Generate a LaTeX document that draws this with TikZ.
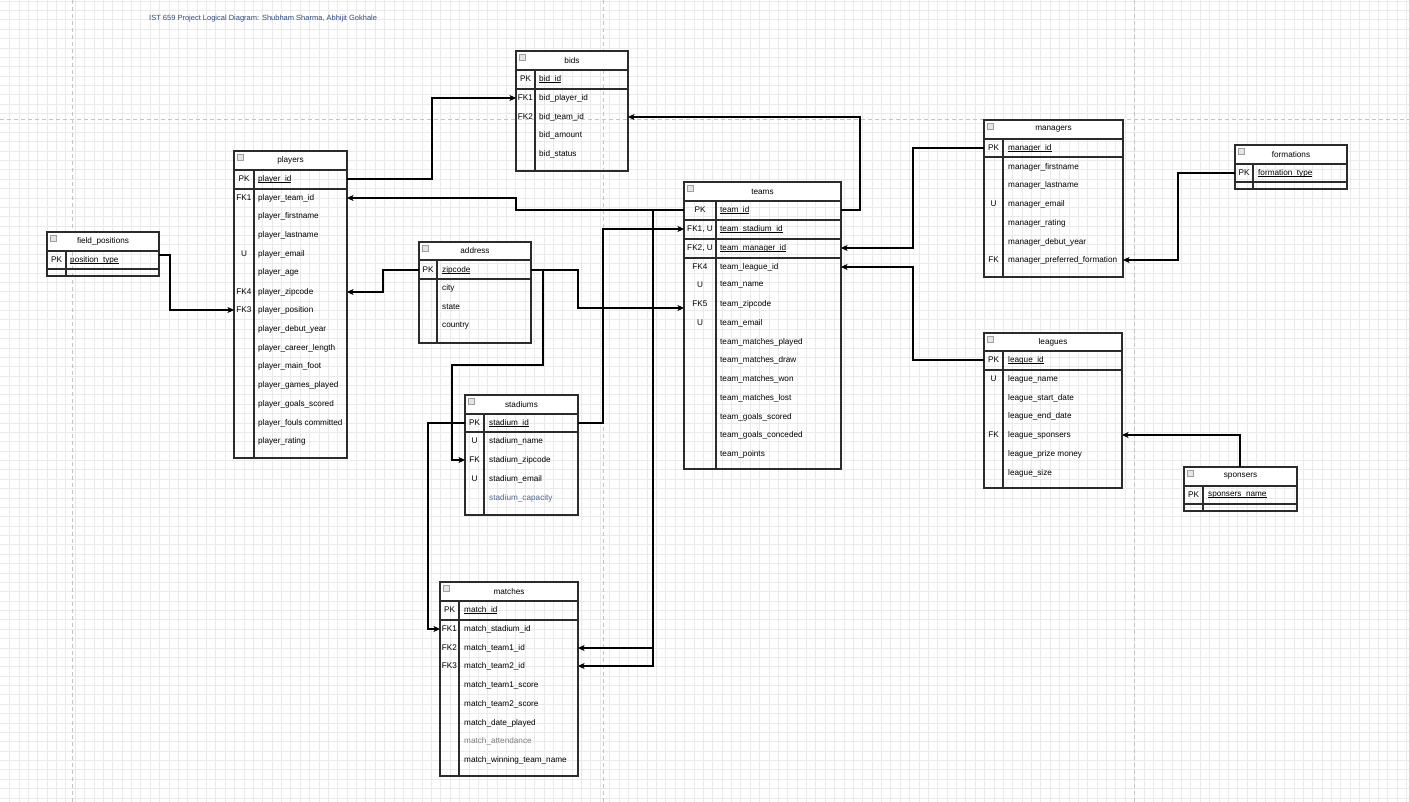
\documentclass[tikz,border=0pt]{standalone}
\usepackage{fontspec}
\setmainfont{Liberation Sans}
\usetikzlibrary{arrows.meta}
\definecolor{gridc}{HTML}{EAEAEA}
\definecolor{pagec}{HTML}{C4C4C4}
\definecolor{tlinec}{HTML}{2B2B2B}
\definecolor{titlec}{HTML}{2A4A8A}
\definecolor{capc}{HTML}{4E6A9A}
\definecolor{attc}{HTML}{808080}
\newsavebox\pkbox
\newcommand\pku[1]{\sbox\pkbox{#1}\leavevmode\rlap{\rule[-1.1pt]{\wd\pkbox}{0.55pt}}\usebox\pkbox}
\tikzset{
  gridline/.style={draw=gridc, line width=0.55pt},
  pageline/.style={draw=pagec, line width=1pt, dash pattern=on 4pt off 3pt},
  tblbox/.style={draw=tlinec, line width=1.4pt, inner sep=0pt, outer sep=0pt},
  tline/.style={draw=tlinec, line width=1.4pt},
  hdrfill/.style={fill=white},
  titletxt/.style={inner sep=0pt, font=\fontsize{8.2}{9}\selectfont},
  rowtxt/.style={anchor=west, inner sep=0pt, font=\fontsize{8.2}{9}\selectfont},
  keytxt/.style={inner sep=0pt, font=\fontsize{8.2}{9}\selectfont},
  iconbox/.style={draw=gray!75, fill=gray!20, line width=0.5pt, minimum size=6pt, inner sep=0pt},
  conn/.style={draw=black, line width=1.2pt, -{Stealth[length=6.5pt,width=6pt,inset=1.6pt]}},
}
% #1 name #2 left #3 right #4 top #5 header bottom #6 pk bottom #7 bottom #8 separator x #9 title
\newcommand\ertable[9]{%
  \fill[hdrfill] (#2,#4) rectangle (#3,#5);
  \node[tblbox, minimum width={#3-#2}, minimum height={#7-#4}, anchor=north west] (#1) at (#2,#4) {};
  \draw[tline] (#2,#5) -- (#3,#5);
  \draw[tline] (#2,#6) -- (#3,#6);
  \draw[tline] (#8,#5) -- (#8,#7);
  \node[titletxt] (#1-title) at ({(#2+#3)/2},{(#4+#5)/2}) {#9};
  \node[iconbox] (#1-icon) at ({#2+6},{#4+6}) {};
}
% #1 name #2 key x #3 text x #4 rows y/key/text
\newcommand\errows[4]{%
  \foreach[count=\i] \ry/\rk/\rt in {#4} {%
    \node[keytxt] (#1-k\i) at (#2,\ry) {\rk};
    \node[rowtxt] (#1-r\i) at (#3,\ry) {\rt};
  }%
}
\begin{document}
\begin{tikzpicture}[x=1pt,y=-1pt]
\useasboundingbox (0,0) rectangle (1409,802);
\fill[white] (0,0) rectangle (1409,802);
% grid
\foreach \i in {0,...,150} {\draw[gridline] ({9.4+\i*9.375},0) -- ({9.4+\i*9.375},802);}
\foreach \j in {0,...,86} {\draw[gridline] (0,{1+\j*9.375}) -- (1409,{1+\j*9.375});}
% page breaks
\draw[pageline] (72,0) -- (72,802);
\draw[pageline] (603,0) -- (603,802);
\draw[pageline] (1134,0) -- (1134,802);
\draw[pageline] (0,120) -- (1409,120);
% title
\node[anchor=west, inner sep=0pt, text=titlec, font=\fontsize{7.5}{9}\selectfont] (doctitle) at (149,19) {IST 659 Project Logical Diagram: Shubham Sharma, Abhijit Gokhale};

% players
\ertable{players}{234}{347}{151}{170}{189}{458}{254}{players}
\errows{players}{244}{258}{179/PK/\pku{player\_id}, 198/FK1/player\_team\_id, 216/{}/player\_firstname, 235/{}/player\_lastname, 254/U/player\_email, 272/{}/player\_age, 292/FK4/player\_zipcode, 310/FK3/player\_position, 329/{}/player\_debut\_year, 348/{}/player\_career\_length, 366/{}/player\_main\_foot, 385/{}/player\_games\_played, 404/{}/player\_goals\_scored, 423/{}/player\_fouls committed, 441/{}/player\_rating}

% bids
\ertable{bids}{516}{628}{51}{70}{89}{171}{535}{bids}
\errows{bids}{525.5}{539}{79/PK/\pku{bid\_id}, 98/FK1/bid\_player\_id, 117/FK2/bid\_team\_id, 135/{}/bid\_amount, 154/{}/bid\_status}

% teams
\ertable{teams}{684}{841}{182}{201}{220}{469}{716}{teams}
\draw[tline] (684,239) -- (841,239);
\draw[tline] (684,258) -- (841,258);
\errows{teams}{700}{720}{210/PK/\pku{team\_id}, 229/{FK1, U}/\pku{team\_stadium\_id}, 248/{FK2, U}/\pku{team\_manager\_id}, 267/FK4/team\_league\_id, 285/U/team\_name, 304/FK5/team\_zipcode, 323/U/team\_email, 342/{}/team\_matches\_played, 360/{}/team\_matches\_draw, 379/{}/team\_matches\_won, 398/{}/team\_matches\_lost, 417/{}/team\_goals\_scored, 435/{}/team\_goals\_conceded, 454/{}/team\_points}

% managers
\ertable{managers}{984}{1123}{120}{139}{157}{277}{1003}{managers}
\errows{managers}{993.5}{1008}{148/PK/\pku{manager\_id}, 167/{}/manager\_firstname, 185/{}/manager\_lastname, 204/U/manager\_email, 223/{}/manager\_rating, 242/{}/manager\_debut\_year, 260/FK/manager\_preferred\_formation}

% leagues
\ertable{leagues}{984}{1122}{333}{351}{370}{488}{1003}{leagues}
\errows{leagues}{993.5}{1008}{360/PK/\pku{league\_id}, 379/U/league\_name, 398/{}/league\_start\_date, 416/{}/league\_end\_date, 435/FK/league\_sponsers, 454/{}/league\_prize money, 473/{}/league\_size}

% sponsers
\ertable{sponsers}{1184}{1297}{467}{486}{504}{511}{1203}{sponsers}
\errows{sponsers}{1193.5}{1208}{495/PK/\pku{sponsers\_name}}

% formations
\ertable{formations}{1235}{1347}{145}{164}{182}{189}{1253}{formations}
\errows{formations}{1244}{1258}{173/PK/\pku{formation\_type}}

% field_positions
\ertable{fieldpos}{47}{159}{232}{251}{269}{276}{66}{field\_positions}
\errows{fieldpos}{56.5}{70}{260/PK/\pku{position\_type}}

% address
\ertable{address}{419}{531}{242}{260}{279}{343}{437}{address}
\errows{address}{428}{442}{270/PK/\pku{zipcode}, 288/{}/city, 307/{}/state, 326/{}/country}

% stadiums
\ertable{stadiums}{465}{578}{395}{414}{432}{515}{484}{stadiums}
\errows{stadiums}{474.5}{489}{423/PK/\pku{stadium\_id}, 441/U/stadium\_name, 460/FK/stadium\_zipcode, 479/U/stadium\_email, 498/{}/\textcolor{capc}{stadium\_capacity}}

% matches
\ertable{matches}{440}{578}{582}{601}{620}{776}{459}{matches}
\errows{matches}{449.5}{464}{610/PK/\pku{match\_id}, 629/FK1/match\_stadium\_id, 648/FK2/match\_team1\_id, 666/FK3/match\_team2\_id, 685/{}/match\_team1\_score, 704/{}/match\_team2\_score, 723/{}/match\_date\_played, 741/{}/\textcolor{attc}{match\_attendance}, 760/{}/match\_winning\_team\_name}

% connector ends
\coordinate (pl-id-e) at (347,179);
\coordinate (pl-team-e) at (347,198);
\coordinate (pl-zip-e) at (347,292);
\coordinate (pl-pos-w) at (234,310);
\coordinate (bd-player-w) at (516,98);
\coordinate (bd-team-e) at (628,117);
\coordinate (tm-id-e) at (841,210);
\coordinate (tm-id-w) at (684,210);
\coordinate (tm-stad-w) at (684,229);
\coordinate (tm-mgr-e) at (841,248);
\coordinate (tm-lg-e) at (841,267);
\coordinate (tm-zip-w) at (684,308);
\coordinate (mg-id-w) at (984,148);
\coordinate (mg-form-e) at (1123,260);
\coordinate (lg-id-w) at (984,360);
\coordinate (lg-sp-e) at (1122,435);
\coordinate (sp-n) at (1240,467);
\coordinate (fm-w) at (1235,173);
\coordinate (fp-e) at (159,255);
\coordinate (ad-w) at (419,270);
\coordinate (ad-e) at (531,270);
\coordinate (st-id-e) at (578,423);
\coordinate (st-id-w) at (465,423);
\coordinate (st-zip-w) at (465,460);
\coordinate (mt-stad-w) at (440,629);
\coordinate (mt-t1-e) at (578,648);
\coordinate (mt-t2-e) at (578,666);

% connectors
\draw[conn] (pl-id-e) -- ++(85,0) |- (bd-player-w);
\draw[conn] (tm-id-e) -- ++(19,0) |- (bd-team-e);
\draw[conn] (tm-id-w) -- ++(-168,0) |- (pl-team-e);
\draw[conn] (tm-id-w) -- ++(-31,0) |- (mt-t1-e);
\draw[conn] (tm-id-w) -- ++(-31,0) |- (mt-t2-e);
\draw[conn] (st-id-e) -- ++(25,0) |- (tm-stad-w);
\draw[conn] (ad-w) -- ++(-36,0) |- (pl-zip-e);
\draw[conn] (ad-e) -- ++(47,0) |- (tm-zip-w);
\draw[conn] (ad-e) -- ++(12,0) -- ++(0,95) -- ++(-91,0) |- (st-zip-w);
\draw[conn] (st-id-w) -- ++(-37,0) |- (mt-stad-w);
\draw[conn] (mg-id-w) -- ++(-71,0) |- (tm-mgr-e);
\draw[conn] (lg-id-w) -- ++(-71,0) |- (tm-lg-e);
\draw[conn] (fm-w) -- ++(-57,0) |- (mg-form-e);
\draw[conn] (sp-n) |- (lg-sp-e);
\draw[conn] (fp-e) -- ++(11,0) |- (pl-pos-w);
\end{tikzpicture}
\end{document}
